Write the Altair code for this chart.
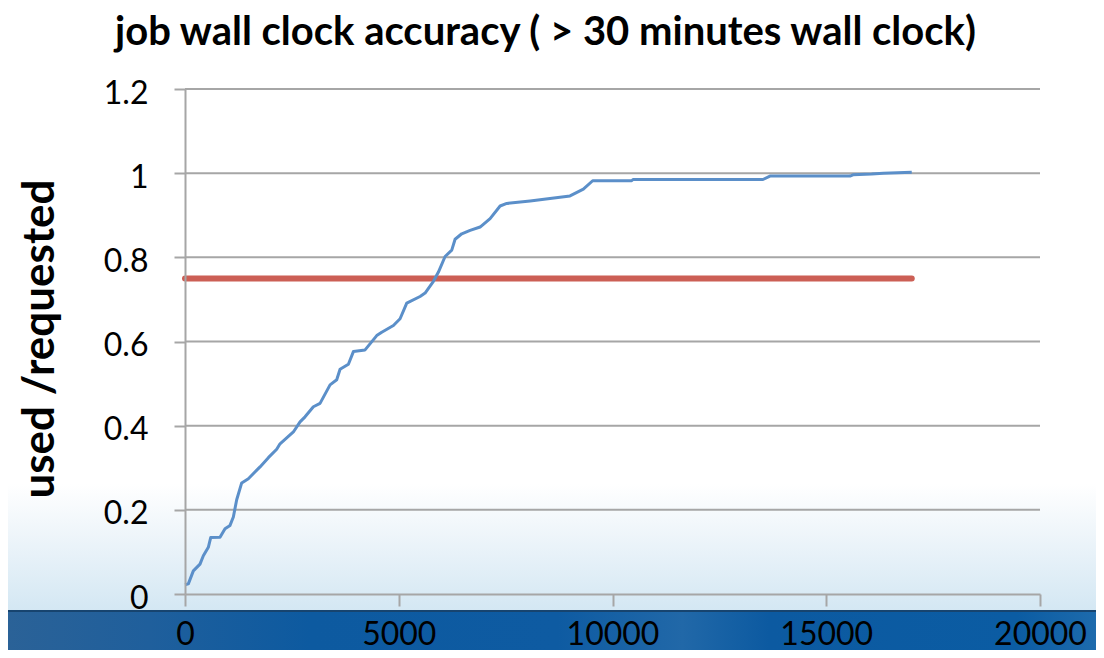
import altair as alt
import pandas as pd

# blue series: used/requested ratio vs job index
job_x = [0, 78, 195, 351, 429, 546, 601, 819, 936, 1053, 1131, 1209, 1326, 1482, 1755,
         1950, 2145, 2223, 2535, 2691, 2808, 3003, 3159, 3393, 3549, 3627, 3822, 3939,
         4212, 4485, 4602, 4875, 5031, 5187, 5499, 5616, 5811, 5928, 6084, 6240, 6318,
         6474, 6669, 6903, 7137, 7371, 7527, 8073, 8538, 9006, 9318, 9536, 10448, 10480,
         13520, 13684, 15556, 15626, 16062, 16335, 17000]
job_y = [0.022, 0.024, 0.055, 0.071, 0.091, 0.111, 0.134, 0.135, 0.155, 0.163, 0.183,
         0.224, 0.264, 0.274, 0.302, 0.324, 0.344, 0.357, 0.385, 0.409, 0.421, 0.445,
         0.453, 0.497, 0.509, 0.534, 0.546, 0.576, 0.580, 0.614, 0.622, 0.638, 0.654,
         0.691, 0.707, 0.715, 0.743, 0.765, 0.802, 0.817, 0.843, 0.856, 0.864, 0.872,
         0.892, 0.922, 0.928, 0.934, 0.940, 0.946, 0.962, 0.982, 0.982, 0.985, 0.985,
         0.993, 0.993, 0.996, 0.998, 1.000, 1.002]

# red reference line
ref_x = [0, 17000]
ref_y = [0.75, 0.75]

x_ticks = [0, 5000, 10000, 15000, 20000]
y_ticks = [0, 0.2, 0.4, 0.6, 0.8, 1.0, 1.2]

W, H = 855, 505
PAD_L, PAD_T = 177, 81
FONT = "Lato"

df_job = pd.DataFrame({"x": job_x, "y": job_y})
df_ref = pd.DataFrame({"x": ref_x, "y": ref_y})
df_grid = pd.DataFrame({"y": y_ticks[1:]})

x_scale = alt.Scale(domain=[0, 20000], nice=False, zero=True)
y_scale = alt.Scale(domain=[0, 1.2], nice=False)

x_axis = alt.Axis(values=x_ticks, grid=False, title=None, format="d",
                  domainColor="#a6a6a6", domainWidth=2, tickColor="#a6a6a6",
                  tickWidth=2, tickSize=12, labelFont=FONT, labelFontSize=32,
                  labelColor="#000000", labelBaseline="alphabetic", labelPadding=38,
                  labelFlush=False, labelOverlap=False, zindex=2)
y_axis = alt.Axis(values=y_ticks, grid=False, format="~g",
                  domainColor="#a6a6a6", domainWidth=2, tickColor="#a6a6a6",
                  tickWidth=2, tickSize=11, labelFont=FONT, labelFontSize=32,
                  labelColor="#000000", labelPadding=26, labelOffset=4,
                  labelFlush=False, labelOverlap=False,
                  title="used /requested", titleFont=FONT, titleFontSize=44,
                  titleFontWeight="bold", titleColor="#000000", titleAngle=-90,
                  titleAlign="center", titleBaseline="middle",
                  titleX=-145, titleY=H / 2 - 3, zindex=2)

base_bg = alt.Chart(pd.DataFrame({"k": [0]}))

light_bg = base_bg.mark_rect(
    fill=alt.Gradient(gradient="linear", x1=0, x2=0, y1=0, y2=1,
                      stops=[alt.GradientStop(color="#ffffff", offset=0),
                             alt.GradientStop(color="#eef5fa", offset=0.4),
                             alt.GradientStop(color="#d3e7f3", offset=1)]),
    clip=False
).encode(x=alt.value(-PAD_L - 8), x2=alt.value(W + 200),
         y=alt.value(395), y2=alt.value(523))

dark_bg = base_bg.mark_rect(
    fill=alt.Gradient(gradient="linear", x1=0, x2=1, y1=0, y2=0,
                      stops=[alt.GradientStop(color="#2b6297", offset=0),
                             alt.GradientStop(color="#1f5f9c", offset=0.12),
                             alt.GradientStop(color="#0d5aa0", offset=0.25),
                             alt.GradientStop(color="#0e5ba2", offset=0.45),
                             alt.GradientStop(color="#2168a8", offset=0.55),
                             alt.GradientStop(color="#0c5aa1", offset=0.62),
                             alt.GradientStop(color="#0b5ca3", offset=0.82),
                             alt.GradientStop(color="#1f6cad", offset=0.89),
                             alt.GradientStop(color="#0c5ea6", offset=0.95),
                             alt.GradientStop(color="#0a5aa0", offset=1)]),
    clip=False
).encode(x=alt.value(-PAD_L - 8), x2=alt.value(W + 200),
         y=alt.value(522), y2=alt.value(600))

band_edge = base_bg.mark_rule(color="#17446f", strokeWidth=2, clip=False).encode(
    x=alt.value(-PAD_L - 8), x2=alt.value(W + 200), y=alt.value(522))

grid = alt.Chart(df_grid).mark_rule(color="#a6a6a6", strokeWidth=2).encode(
    y=alt.Y("y:Q", scale=y_scale, axis=y_axis))

ref_line = alt.Chart(df_ref).mark_line(color="#cc5f55", strokeWidth=6,
                                       strokeCap="round").encode(
    x=alt.X("x:Q", scale=x_scale, axis=x_axis),
    y=alt.Y("y:Q", scale=y_scale, axis=y_axis))

job_line = alt.Chart(df_job).mark_line(color="#5b8fc9", strokeWidth=3,
                                       strokeJoin="round").encode(
    x=alt.X("x:Q", scale=x_scale, axis=x_axis),
    y=alt.Y("y:Q", scale=y_scale, axis=y_axis))

chart = alt.layer(light_bg, dark_bg, band_edge, grid, ref_line, job_line).properties(
    width=W, height=H,
    title=alt.TitleParams(text="job wall clock accuracy ( > 30 minutes wall clock)",
                          font=FONT, fontSize=40, fontWeight="bold", color="#000000",
                          anchor="middle", frame="group", dx=-67, offset=24),
    autosize=alt.AutoSizeParams(type="none"),
    padding={"left": PAD_L, "top": PAD_T, "right": 1088 - PAD_L - W, "bottom": 642 - PAD_T - H},
    background="#ffffff"
).configure_view(stroke=None)

chart.save("out.html", embed_options={"renderer": "svg", "actions": False})
